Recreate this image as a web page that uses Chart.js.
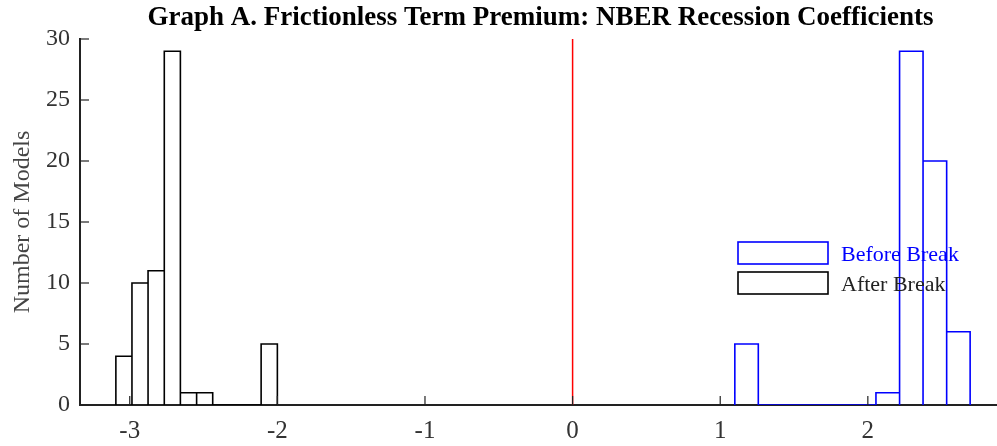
<!DOCTYPE html>
<html>
<head>
<meta charset="utf-8">
<script src="https://cdn.jsdelivr.net/npm/chart.js@4"></script>
<style>
  html, body { margin: 0; padding: 0; background: #fff; }
  #wrap { width: 997px; height: 446px; }
</style>
</head>
<body>
<div id="wrap"><canvas id="histChart" width="997" height="446"></canvas></div>
<script>
/* ================= DATA ================= */
const afterEdges  = [-3.094, -2.985, -2.876, -2.766, -2.657, -2.547, -2.438, -2.329, -2.219, -2.110, -2.000];
const afterCounts = [4, 10, 11, 29, 1, 1, 0, 0, 0, 5];

const beforeEdges  = [1.099, 1.258, 1.418, 1.577, 1.736, 1.896, 2.055, 2.215, 2.374, 2.534, 2.693];
const beforeCounts = [5, 0, 0, 0, 0, 0, 1, 29, 20, 6];

const yTicks = [0, 5, 10, 15, 20, 25, 30];
const xTicks = [-3, -2, -1, 0, 1, 2];

const legendLabels = ["Before Break", "After Break"];
const legendColors = ["#0000ff", "#000000"];

const TITLE = "Graph A. Frictionless Term Premium: NBER Recession Coefficients";
const FONT = "'Liberation Serif', 'DejaVu Serif', serif";

/* outline of a histogram: up, across, down for every bin */
function histOutline(edges, counts) {
    const pts = [];
    counts.forEach((c, i) => {
        pts.push({ x: edges[i], y: 0 });
        pts.push({ x: edges[i], y: c });
        pts.push({ x: edges[i + 1], y: c });
        pts.push({ x: edges[i + 1], y: 0 });
    });
    return pts;
}

/* title over plot area, inward tick marks, legend */
const decorPlugin = {
    id: "decor",
    afterDraw(chart) {
        const { ctx, chartArea, scales } = chart;
        ctx.save();

        // title centred on the axes box
        ctx.font = "bold 27px " + FONT;
        ctx.fillStyle = "#000";
        ctx.textAlign = "center";
        ctx.textBaseline = "alphabetic";
        ctx.fillText(TITLE, (chartArea.left + chartArea.right) / 2 + 2, 25);

        ctx.strokeStyle = "#222";
        ctx.lineWidth = 1.2;
        yTicks.forEach(v => {
            const y = scales.y.getPixelForValue(v);
            ctx.beginPath();
            ctx.moveTo(chartArea.left, y);
            ctx.lineTo(chartArea.left + 9, y);
            ctx.stroke();
        });
        xTicks.forEach(v => {
            const x = scales.x.getPixelForValue(v);
            ctx.beginPath();
            ctx.moveTo(x, chartArea.bottom);
            ctx.lineTo(x, chartArea.bottom - 9);
            ctx.stroke();
        });

        // legend
        const bx = 738, bw = 90, bh = 22;
        const rows = [242, 272];
        ctx.font = "22px " + FONT;
        ctx.textAlign = "left";
        ctx.textBaseline = "middle";
        legendLabels.forEach((lab, i) => {
            ctx.strokeStyle = legendColors[i];
            ctx.lineWidth = 1.6;
            ctx.strokeRect(bx, rows[i], bw, bh);
            ctx.fillStyle = legendColors[i] === "#000000" ? "#222" : legendColors[i];
            ctx.fillText(lab, bx + bw + 13, rows[i] + bh / 2 + 2);
        });
        ctx.restore();
    }
};

const ctx = document.getElementById("histChart").getContext("2d");

new Chart(ctx, {
    type: "line",
    data: {
        datasets: [
            {
                label: "After Break",
                data: histOutline(afterEdges, afterCounts),
                borderColor: "#000",
                borderWidth: 1.6,
                pointRadius: 0,
                fill: false,
                tension: 0
            },
            {
                label: "Before Break",
                data: histOutline(beforeEdges, beforeCounts),
                borderColor: "#0000ff",
                borderWidth: 1.6,
                pointRadius: 0,
                fill: false,
                tension: 0
            },
            {
                label: "zero",
                data: [{ x: 0, y: 0 }, { x: 0, y: 30 }],
                borderColor: "#ff0000",
                borderWidth: 1.5,
                pointRadius: 0,
                fill: false
            }
        ]
    },
    options: {
        responsive: false,
        animation: false,
        layout: { padding: { top: 39, left: 0, right: 0, bottom: 0 } },
        plugins: {
            legend: { display: false },
            tooltip: { enabled: false },
            title: { display: false }
        },
        scales: {
            x: {
                type: "linear",
                min: -3.337,
                max: 2.875,
                afterBuildTicks: s => { s.ticks = xTicks.map(v => ({ value: v })); },
                afterFit: s => { s.height = 41; },
                grid: { display: false, drawTicks: false },
                border: { display: true, color: "#222", width: 2 },
                ticks: {
                    color: "#333",
                    padding: 11,
                    font: { family: FONT, size: 25 },
                    callback: v => v
                }
            },
            y: {
                type: "linear",
                min: 0,
                max: 30,
                afterBuildTicks: s => { s.ticks = yTicks.map(v => ({ value: v })); },
                afterFit: s => { s.width = 80; },
                grid: { display: false, drawTicks: false },
                border: { display: true, color: "#222", width: 2 },
                title: {
                    display: true,
                    text: "Number of Models",
                    color: "#444",
                    font: { family: FONT, size: 24 },
                    padding: { top: 8, bottom: 4 }
                },
                ticks: {
                    color: "#333",
                    padding: 10,
                    font: { family: FONT, size: 24 }
                }
            }
        }
    },
    plugins: [decorPlugin]
});
</script>
</body>
</html>
